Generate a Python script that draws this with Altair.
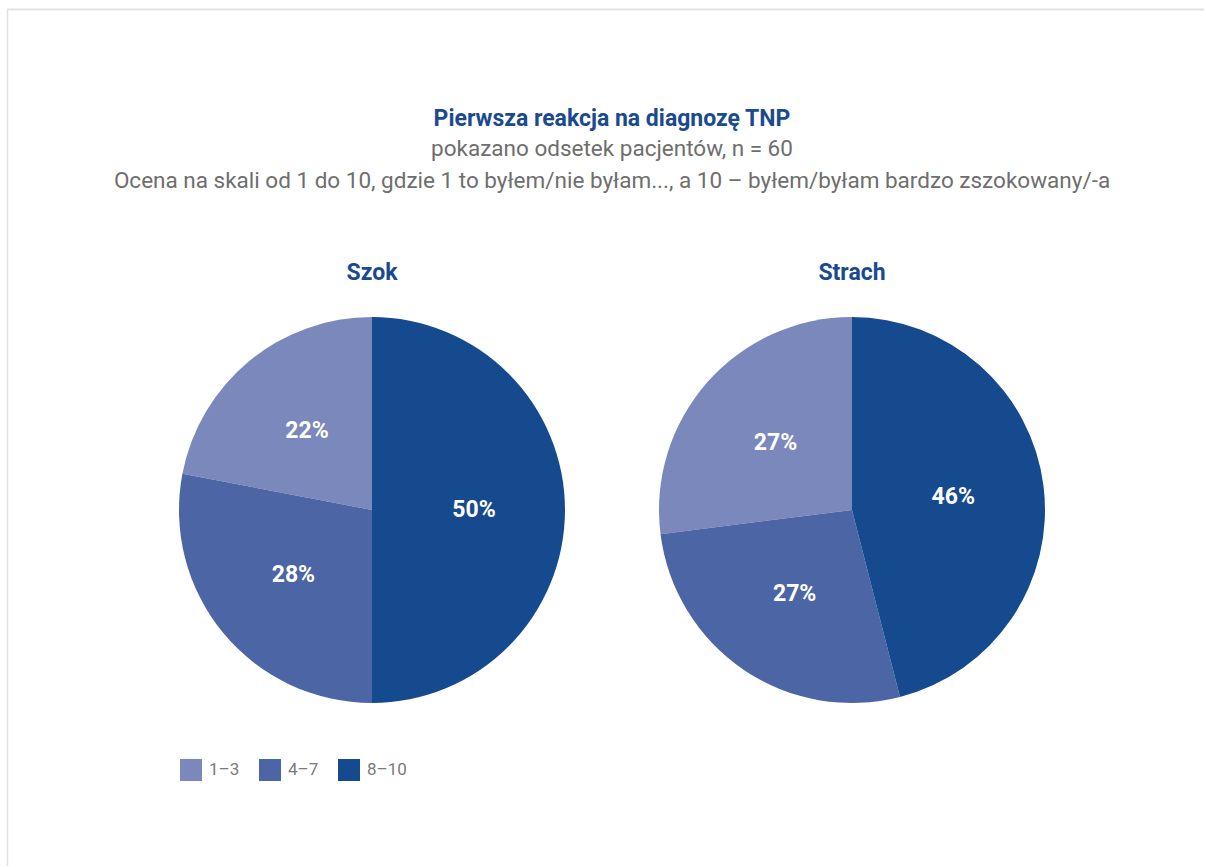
import altair as alt
import pandas as pd

# ---- data ----
categories = ["1–3", "4–7", "8–10"]
szok_values = [22, 28, 50]
strach_values = [27, 27, 46]
panel_names = ["Szok", "Strach"]
stack_order = [2, 1, 0]  # 8–10 drawn first (clockwise from 12 o'clock)
colors = ["#7b88bb", "#4b65a5", "#164a8f"]

title_text = "Pierwsza reakcja na diagnozę TNP"
subtitle_1 = "pokazano odsetek pacjentów, n = 60"
subtitle_2 = ("Ocena na skali od 1 do 10, gdzie 1 to byłem/nie byłam..., "
              "a 10 – byłem/byłam bardzo zszokowany/-a")

FONT = "Roboto"
BLUE = "#1b4a8e"
GRAY = "#6e6e6e"
R = 193

color_enc = alt.Color(
    "cat:N",
    scale=alt.Scale(domain=categories, range=colors),
    sort=categories,
    legend=alt.Legend(
        title=None, orient="none", legendX=1, legendY=442,
        direction="horizontal", symbolType="square", symbolSize=484,
        symbolStrokeWidth=0, labelFontSize=17, labelColor="#7a7a7a",
        labelFont=FONT, labelOffset=7, columnPadding=10, gridAlign="all",
        padding=0,
    ),
)


def pie(name, values, decorate=False):
    df = pd.DataFrame({
        "cat": categories,
        "value": values,
        "ord": stack_order,
        "label": [f"{v}%" for v in values],
    })
    base = alt.Chart(df).encode(
        theta=alt.Theta("value:Q", stack=True),
        order=alt.Order("ord:Q"),
    )
    arc = base.mark_arc(outerRadius=R).encode(color=color_enc)
    txt = base.mark_text(
        radius=102, fontSize=23, fontWeight="bold", font=FONT
    ).encode(text="label:N", color=alt.value("white"))
    head = alt.Chart(alt.Data(values=[{"t": name}])).mark_text(
        fontSize=23, fontWeight="bold", font=FONT, color=BLUE, baseline="middle"
    ).encode(text="t:N", x=alt.value(R), y=alt.value(-44))
    layers = [arc, txt, head]
    if decorate:
        one = alt.Data(values=[{}])
        frame_top = alt.Chart(one).mark_rule(
            color="#e2e2e2", strokeWidth=2
        ).encode(x=alt.value(-172), x2=alt.value(1025), y=alt.value(-307.5))
        frame_left = alt.Chart(one).mark_rule(
            color="#e2e2e2", strokeWidth=1.5
        ).encode(x=alt.value(-171.5), y=alt.value(-308), y2=alt.value(549))
        cx = 433
        t1 = alt.Chart(alt.Data(values=[{"t": title_text}])).mark_text(
            fontSize=23, fontWeight="bold", font=FONT, color=BLUE
        ).encode(text="t:N", x=alt.value(cx), y=alt.value(-198))
        t2 = alt.Chart(alt.Data(values=[{"t": subtitle_1}])).mark_text(
            fontSize=22.5, font=FONT, color=GRAY
        ).encode(text="t:N", x=alt.value(cx), y=alt.value(-168))
        t3 = alt.Chart(alt.Data(values=[{"t": subtitle_2}])).mark_text(
            fontSize=22.5, font=FONT, color=GRAY
        ).encode(text="t:N", x=alt.value(cx), y=alt.value(-136))
        layers = [frame_top, frame_left, t1, t2, t3] + layers
    return alt.layer(*layers).properties(width=2 * R, height=2 * R)


chart = alt.hconcat(
    pie(panel_names[0], szok_values, decorate=True),
    pie(panel_names[1], strach_values),
    spacing=94,
    bounds="flush",
).properties(
    padding={"left": 6, "top": 8, "right": 0, "bottom": 0},
    background="white",
).configure_view(stroke=None).configure_text(font=FONT)

chart.save("out.html", embed_options={"renderer": "svg", "actions": False})
